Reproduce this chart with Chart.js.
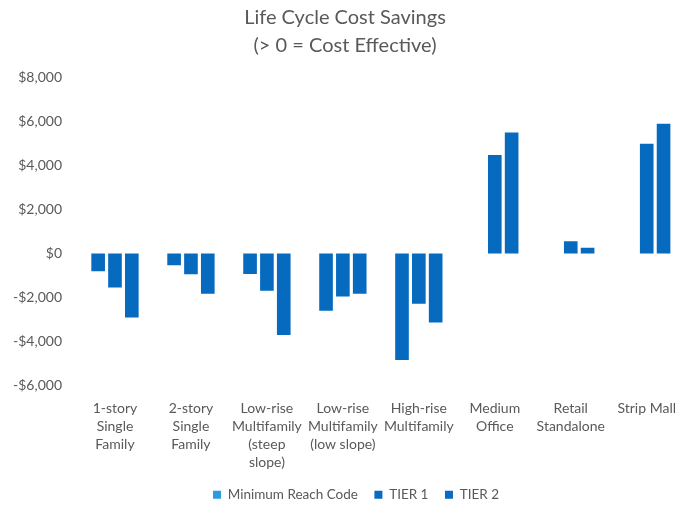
<!DOCTYPE html>
<html>
<head>
<meta charset="utf-8">
<script src="https://cdn.jsdelivr.net/npm/chart.js@4/dist/chart.umd.min.js"></script>
<style>
  html, body { margin: 0; padding: 0; background: #fff; overflow: hidden; }
  #clip { width: 679px; height: 508px; overflow: hidden; }
</style>
</head>
<body>
<div id="clip"><canvas id="chart" width="690" height="508"></canvas></div>
<script>
// categories (multi-line tick labels)
var categories = [
    ['1-story', 'Single', 'Family'],
    ['2-story', 'Single', 'Family'],
    ['Low-rise', 'Multifamily', '(steep', 'slope)'],
    ['Low-rise', 'Multifamily', '(low slope)'],
    ['High-rise', 'Multifamily'],
    ['Medium', 'Office'],
    ['Retail', 'Standalone'],
    ['Strip Mall']
];

var minReach = [-800, -530, -930, -2590, -4830, null, null, null];
var tier1 = [-1540, -940, -1690, -1950, -2280, 4470, 560, 4970];
var tier2 = [-2900, -1820, -3690, -1820, -3130, 5490, 260, 5880];

var seriesNames = ['Minimum Reach Code', 'TIER 1', 'TIER 2'];
var legendColors = ['#2a9de2', '#0a69c0', '#0a69c0'];
var barColor = '#066bbf';
var textColor = '#595959';
var fontFamily = 'Lato, "Open Sans", sans-serif';

function money(v) {
    var s = '$' + Math.abs(v).toLocaleString('en-US');
    return v < 0 ? '-' + s : s;
}

// legend only reserves a thin strip, then is drawn a bit higher / right
var legendNudge = {
    id: 'legendNudge',
    afterInit: function (chart) {
        var lg = chart.legend;
        var fit = lg.fit;
        lg.fit = function () {
            fit.apply(this, arguments);
            this.height = 23;
        };
    },
    afterLayout: function (chart) {
        var lg = chart.legend;
        lg.left += 11;
        lg.right += 11;
        lg.top -= 13.5;
        lg.bottom = chart.height;
    }
};

var ctx = document.getElementById('chart');

new Chart(ctx, {
    type: 'bar',
    data: {
        labels: categories,
        datasets: [minReach, tier1, tier2].map(function (d, i) {
            return {
                label: seriesNames[i],
                data: d,
                backgroundColor: barColor,
                categoryPercentage: 0.665,
                barPercentage: 0.81
            };
        })
    },
    plugins: [legendNudge],
    options: {
        responsive: false,
        animation: false,
        layout: { padding: 0 },
        plugins: {
            title: {
                display: true,
                text: ['Life Cycle Cost Savings', '(> 0 = Cost Effective)'],
                color: textColor,
                font: { family: fontFamily, size: 20, weight: 'normal', lineHeight: 1.4 },
                padding: { top: 4, bottom: 17 }
            },
            legend: {
                position: 'bottom',
                labels: {
                    color: textColor,
                    font: { family: fontFamily, size: 13.5 },
                    boxWidth: 8,
                    boxHeight: 8,
                    padding: 16.5,
                    generateLabels: function (chart) {
                        return chart.data.datasets.map(function (ds, i) {
                            return {
                                text: ds.label,
                                fillStyle: legendColors[i],
                                strokeStyle: legendColors[i],
                                lineWidth: 0,
                                fontColor: textColor,
                                datasetIndex: i
                            };
                        });
                    }
                }
            },
            tooltip: { enabled: false }
        },
        scales: {
            x: {
                grid: { display: false, drawTicks: false },
                border: { display: false },
                ticks: {
                    color: textColor,
                    font: { family: fontFamily, size: 14, lineHeight: 1.27 },
                    maxRotation: 0,
                    autoSkip: false,
                    padding: 14
                }
            },
            y: {
                min: -6000,
                max: 8000,
                grid: { display: false, drawTicks: false },
                border: { display: false },
                afterFit: function (scale) { scale.width = 77; },
                ticks: {
                    stepSize: 2000,
                    color: textColor,
                    font: { family: fontFamily, size: 14 },
                    padding: 15,
                    callback: function (v) { return money(v); }
                }
            }
        }
    }
});
</script>
</body>
</html>
